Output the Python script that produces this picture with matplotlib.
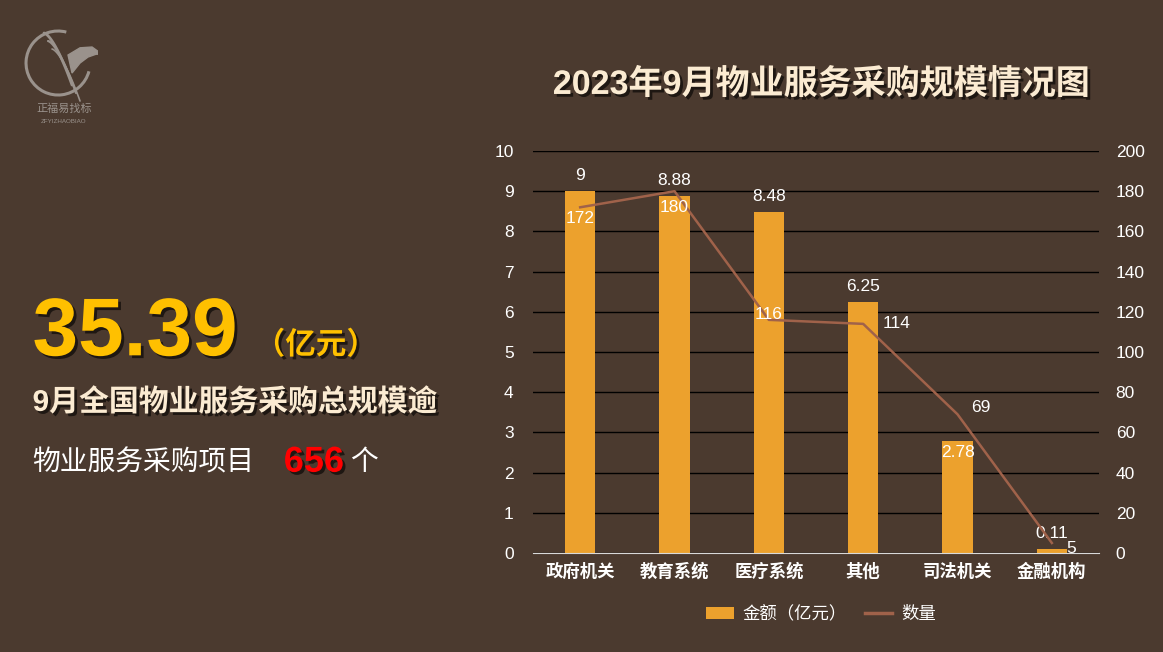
import numpy as np
import matplotlib.pyplot as plt
import matplotlib.patheffects as pe
from matplotlib.patches import Arc, Patch
from matplotlib.lines import Line2D

plt.rcParams['font.family'] = ['Liberation Sans', 'Noto Sans CJK SC', 'DejaVu Sans']
cjk = ['Noto Sans CJK SC', 'DejaVu Sans']

# data
categories = ['政府机关', '教育系统', '医疗系统', '其他', '司法机关', '金融机构']
amount = [9, 8.88, 8.48, 6.25, 2.78, 0.11]      # 亿元
count = [172, 180, 116, 114, 69, 5]            # 数量
total_amount = '35.39'
total_count = '656'

bg = '#4b3a2f'
bar_color = '#eca12d'
line_color = '#a0624a'
logo_color = '#9a928c'

fig = plt.figure(figsize=(11.63, 6.52), dpi=100, facecolor=bg)
ax = fig.add_axes([0.4583, 0.1518, 0.4867, 0.6166])
ax.set_facecolor(bg)
ax2 = ax.twinx()

x = np.arange(len(categories))
ax.bar(x, amount, width=0.32, color=bar_color, zorder=2)
ax2.plot(x, count, color=line_color, lw=1.8, zorder=3)

ax.set_xlim(-0.5, len(categories) - 0.5)
ax.set_ylim(0, 10)
ax2.set_ylim(0, 200)
ax.set_yticks(range(0, 11))
ax2.set_yticks(range(0, 201, 20))
ax.set_xticks(x)
ax.set_xticklabels(categories, fontsize=12.5, color='white', family=cjk, fontweight='bold')
ax.grid(axis='y', color='black', lw=1.0, zorder=0)
ax.set_axisbelow(True)
for a in (ax, ax2):
    for s in a.spines.values():
        s.set_visible(False)
    a.tick_params(length=0, colors='white', labelsize=12.5)
ax.spines['bottom'].set_visible(True)
ax.spines['bottom'].set_color('#d9d9d9')
ax.tick_params(axis='x', pad=7)
ax.tick_params(axis='y', pad=14)
ax2.tick_params(axis='y', pad=12)

# bar labels
for i, v in enumerate(amount):
    if i == 4:
        ax.text(i, v - 0.1, f'{v:g}', ha='center', va='top', color='white', fontsize=12.5)
    else:
        ax.text(i, v + 0.2, f'{v:g}', ha='center', va='bottom', color='white', fontsize=12.5)

# line labels
offsets = [(0, -8), (0, -12), (0, 4), (24, 0), (17, 5), (14, -4)]
for i, (c, (dx, dy)) in enumerate(zip(count, offsets)):
    ax2.annotate(str(c), (i, c), xytext=(dx, dy), textcoords='offset points',
                 ha='center', va='center', color='white', fontsize=12.5)

# title
shadow = [pe.withSimplePatchShadow(offset=(2, -2), shadow_rgbFace='black', alpha=0.6)]
fig.text(0.706, 0.870, '2023年9月物业服务采购规模情况图', ha='center', va='center',
         fontsize=24.5, fontweight='bold', color='#fbebd2', path_effects=shadow)

# legend
handles = [Patch(facecolor=bar_color, label='金额（亿元）'),
           Line2D([], [], color=line_color, lw=2.5, label='数量')]
fig.legend(handles=handles, loc='center', bbox_to_anchor=(0.706, 0.058), ncol=2,
           frameon=False, prop={'family': cjk, 'size': 12.5}, labelcolor='white',
           handlelength=1.6, columnspacing=1.0, handletextpad=0.5)

# left side summary text
fig.text(0.028, 0.455, total_amount, fontsize=59, fontweight='bold', color='#ffc000',
         va='baseline', path_effects=shadow)
fig.text(0.219, 0.471, '（亿元）', fontsize=22, fontweight='bold', color='#ffc000',
         va='center', family=cjk, path_effects=shadow)
fig.text(0.028, 0.383, '9月全国物业服务采购总规模逾', fontsize=21.5, fontweight='bold',
         color='#fbebd2', va='center', path_effects=shadow)
fig.text(0.028, 0.291, '物业服务采购项目', fontsize=20, color='white', va='center', family=cjk)
fig.text(0.244, 0.291, total_count, fontsize=26, fontweight='bold', color='#ff0000',
         va='center', path_effects=shadow)
fig.text(0.301, 0.291, '个', fontsize=20, color='white', va='center', family=cjk)

# logo
lax = fig.add_axes([0.0155, 0.842, 0.0688, 0.1227])
lax.set_xlim(-1, 1)
lax.set_ylim(-1, 1)
lax.set_aspect('equal')
lax.axis('off')
lax.add_patch(Arc((0, 0), 1.6, 1.6, theta1=75, theta2=345, color=logo_color, lw=2.2))
# stylised bird: head and swept wings
lax.fill([0.25, 0.55, 0.85, 1.1, 0.95, 0.75, 0.55, 0.35],
         [0.2, 0.38, 0.4, 0.22, 0.22, 0.15, 0.0, -0.25], color=logo_color)
for k in range(3):
    t = np.linspace(0, 1, 30)
    xs = -0.35 + 0.1 * k + 0.7 * t
    ys = 0.75 - 0.2 * k - 1.3 * t ** 1.5
    lax.plot(xs, ys, color=logo_color, lw=2.0 - 0.4 * k, solid_capstyle='round')
fig.text(0.055, 0.834, '正福易找标', ha='center', va='center', fontsize=8,
         color=logo_color, family=cjk)
fig.text(0.055, 0.813, 'ZFYIZHAOBIAO', ha='center', va='center', fontsize=4.5,
         color=logo_color)

fig.savefig('out.png', dpi=100, facecolor=bg)
